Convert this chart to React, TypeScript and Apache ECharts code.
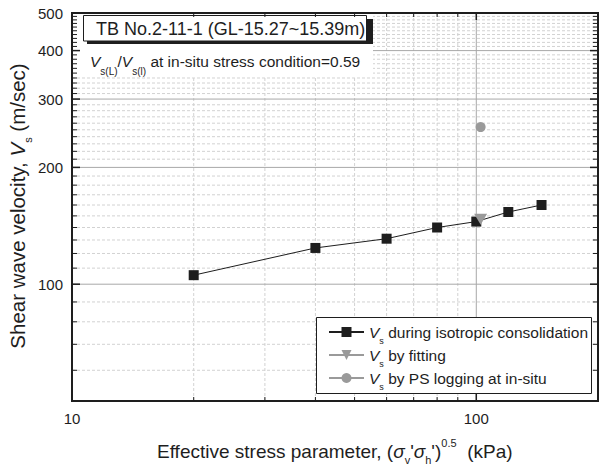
import React, { useEffect, useRef } from 'react';
import * as echarts from 'echarts';

const FONT = '"Liberation Sans", Arial, Helvetica, sans-serif';
const INK = '#1e1e1e';
const GRAY_MARK = '#9a9a9a';
const MAJOR_GRID = '#a8a8a8';
const MINOR_GRID = '#d2d2d2';

// ---- data ----
const stressParam = [20, 40, 60, 80, 100, 120, 145];
const vsIsotropic = [105.5, 124, 131, 140, 145, 153.5, 160];
const fittingStress = [102.5];
const vsFitting = [147];
const psStress = [102.5];
const vsPS = [254];

const seriesNames = [
  'Vs during isotropic consolidation',
  'Vs by fitting',
  'Vs by PS logging at in-situ',
];

// ---- axes ----
const xAxisRange = [10, 200];
const yAxisRange = [50, 500];
const xMajorTicks = [10, 100];
const xMinorTicks = [20, 30, 40, 50, 60, 70, 80, 90];
const yMajorTicks = [100, 200, 300, 400, 500];
const yMinorTicks = [
  60, 70, 80, 90,
  110, 120, 130, 140, 150, 160, 170, 180, 190,
  210, 220, 230, 240, 250, 260, 270, 280, 290,
  310, 320, 330, 340, 350, 360, 370, 380, 390,
  410, 420, 430, 440, 450, 460, 470, 480, 490,
];

const boxTitle = 'TB No.2-11-1 (GL-15.27~15.39m)';
const ratioText = '{it|V}{sub|s(L)}/{it|V}{sub|s(l)} at in-situ stress condition=0.59';

function hGridSeries(values: number[], dashed: boolean) {
  return {
    type: 'custom',
    silent: true,
    z: 1,
    data: values.map((v) => [xAxisRange[0], v]),
    renderItem: (params: any, api: any) => {
      const cs = params.coordSys;
      const v = api.value(1);
      if (v <= yAxisRange[0] || v >= yAxisRange[1]) return { type: 'group', children: [] };
      const y = api.coord([xAxisRange[0], v])[1];
      return {
        type: 'line',
        shape: { x1: cs.x, y1: y, x2: cs.x + cs.width, y2: y },
        style: { stroke: dashed ? MINOR_GRID : MAJOR_GRID, lineWidth: 1, lineDash: dashed ? [3, 2] : null },
      };
    },
  };
}

function vGridSeries(values: number[], dashed: boolean) {
  return {
    type: 'custom',
    silent: true,
    z: 1,
    data: values.map((v) => [v, yAxisRange[0]]),
    renderItem: (params: any, api: any) => {
      const cs = params.coordSys;
      const v = api.value(0);
      if (v <= xAxisRange[0] || v >= xAxisRange[1]) return { type: 'group', children: [] };
      const x = api.coord([v, yAxisRange[0]])[0];
      return {
        type: 'line',
        shape: { x1: x, y1: cs.y, x2: x, y2: cs.y + cs.height },
        style: { stroke: dashed ? MINOR_GRID : MAJOR_GRID, lineWidth: 1, lineDash: dashed ? [3, 2] : null },
      };
    },
  };
}

function yTickSeries(values: number[], major: boolean) {
  const len = major ? 8 : 5;
  return {
    type: 'custom',
    silent: true,
    z: 8,
    data: values.map((v) => [xAxisRange[0], v]),
    renderItem: (params: any, api: any) => {
      const cs = params.coordSys;
      const v = api.value(1);
      const y = api.coord([xAxisRange[0], v])[1];
      const st = { stroke: INK, lineWidth: major ? 1.5 : 1 };
      const children: any[] = [
        { type: 'line', shape: { x1: cs.x, y1: y, x2: cs.x + len, y2: y }, style: st },
        { type: 'line', shape: { x1: cs.x + cs.width - len, y1: y, x2: cs.x + cs.width, y2: y }, style: st },
      ];
      if (major) {
        children.push({
          type: 'text',
          x: cs.x - 9,
          y,
          style: {
            text: String(v),
            font: `15px ${FONT}`,
            fill: INK,
            align: 'right',
            verticalAlign: 'middle',
            textAlign: 'right',
            textVerticalAlign: 'middle',
          },
        });
      }
      return { type: 'group', children };
    },
  };
}

function xTickSeries(values: number[], major: boolean) {
  const len = major ? 7 : 4;
  return {
    type: 'custom',
    silent: true,
    z: 8,
    data: values.map((v) => [v, yAxisRange[0]]),
    renderItem: (params: any, api: any) => {
      const cs = params.coordSys;
      const v = api.value(0);
      const x = api.coord([v, yAxisRange[0]])[0];
      const st = { stroke: INK, lineWidth: major ? 1.5 : 1 };
      const b = cs.y + cs.height;
      const children: any[] = [
        { type: 'line', shape: { x1: x, y1: b, x2: x, y2: b - len }, style: st },
        { type: 'line', shape: { x1: x, y1: cs.y, x2: x, y2: cs.y + len }, style: st },
      ];
      if (major) {
        children.push({
          type: 'text',
          x,
          y: b + 17,
          style: {
            text: String(v),
            font: `15px ${FONT}`,
            fill: INK,
            align: 'center',
            verticalAlign: 'middle',
            textAlign: 'center',
            textVerticalAlign: 'middle',
          },
        });
      }
      return { type: 'group', children };
    },
  };
}

const option: any = {
  animation: false,
  backgroundColor: '#ffffff',
  grid: {
    left: 72,
    top: 13,
    right: 1,
    bottom: 64,
    show: true,
    z: 7,
    borderColor: INK,
    borderWidth: 2,
    backgroundColor: 'transparent',
    containLabel: false,
  },
  xAxis: {
    type: 'log',
    logBase: 10,
    min: xAxisRange[0],
    max: xAxisRange[1],
    axisLine: { show: false },
    axisTick: { show: false },
    axisLabel: { show: false },
    splitLine: { show: false },
  },
  yAxis: {
    type: 'log',
    logBase: 10,
    min: yAxisRange[0],
    max: yAxisRange[1],
    axisLine: { show: false },
    axisTick: { show: false },
    axisLabel: { show: false },
    splitLine: { show: false },
  },
  legend: {
    data: seriesNames,
    orient: 'vertical',
    left: 328,
    top: 319,
    padding: 0,
    itemGap: -3,
    itemWidth: 35,
    itemHeight: 12.5,
    selectedMode: false,
    z: 6,
    formatter: (name: string) => '{it|V}{sub|s}' + name.slice(2),
    textStyle: {
      color: INK,
      fontFamily: FONT,
      fontSize: 15.5,
      lineHeight: 26,
      rich: {
        it: { fontStyle: 'italic', fontFamily: FONT, fontSize: 15.5, lineHeight: 26, color: INK },
        sub: { fontFamily: FONT, fontSize: 9, lineHeight: 9, verticalAlign: 'bottom', color: INK },
      },
    },
  },
  series: [
    hGridSeries(yMinorTicks, true),
    vGridSeries(xMinorTicks, true),
    hGridSeries(yMajorTicks, false),
    vGridSeries(xMajorTicks, false),
    {
      name: seriesNames[0],
      type: 'line',
      z: 3,
      data: stressParam.map((x, i) => [x, vsIsotropic[i]]),
      symbol: 'rect',
      symbolSize: 10,
      itemStyle: { color: INK },
      lineStyle: { color: INK, width: 1 },
    },
    {
      name: seriesNames[1],
      type: 'line',
      z: 4,
      data: fittingStress.map((x, i) => [x, vsFitting[i]]),
      symbol: 'triangle',
      symbolRotate: 180,
      symbolSize: [13, 11],
      itemStyle: { color: GRAY_MARK },
      lineStyle: { color: GRAY_MARK, width: 1 },
    },
    {
      name: seriesNames[2],
      type: 'line',
      z: 4,
      data: psStress.map((x, i) => [x, vsPS[i]]),
      symbol: 'circle',
      symbolSize: 10,
      itemStyle: { color: GRAY_MARK },
      lineStyle: { color: GRAY_MARK, width: 1 },
    },
    yTickSeries(yMinorTicks, false),
    yTickSeries(yMajorTicks, true),
    xTickSeries(xMinorTicks, false),
    xTickSeries(xMajorTicks, true),
  ],
  graphic: [
    // white area behind the title/ratio annotations
    { type: 'rect', z: 5, silent: true, shape: { x: 73, y: 14, width: 300, height: 62 }, style: { fill: '#ffffff' } },
    // shadow of title box
    { type: 'rect', z: 5, silent: true, shape: { x: 87, y: 19, width: 286, height: 25 }, style: { fill: INK } },
    // title box
    { type: 'rect', z: 6, silent: true, shape: { x: 83.5, y: 15.5, width: 283, height: 25.5 }, style: { fill: '#ffffff', stroke: INK, lineWidth: 1 } },
    {
      type: 'text', z: 7, silent: true, x: 96, y: 28.5,
      style: { text: boxTitle, font: `18px ${FONT}`, fill: INK, align: 'left', verticalAlign: 'middle', textAlign: 'left', textVerticalAlign: 'middle' },
    },
    {
      type: 'text', z: 7, silent: true, x: 90, y: 61,
      style: {
        text: ratioText,
        fontFamily: FONT,
        fontSize: 15.5,
        lineHeight: 30,
        fill: INK,
        align: 'left', verticalAlign: 'middle', textAlign: 'left', textVerticalAlign: 'middle',
        rich: {
          it: { fontStyle: 'italic', fontFamily: FONT, fontSize: 15.5, lineHeight: 30, fill: INK },
          sub: { fontFamily: FONT, fontSize: 10, lineHeight: 10, verticalAlign: 'bottom', fill: INK },
        },
      },
    },
    // legend frame
    { type: 'rect', z: 5, silent: true, shape: { x: 316.5, y: 317.5, width: 275, height: 76 }, style: { fill: '#ffffff', stroke: INK, lineWidth: 1 } },
    // y-axis title
    {
      type: 'text', z: 7, silent: true, x: 17, y: 206, rotation: Math.PI / 2,
      style: {
        text: '{n|Shear wave velocity, }{it|V}{sub|s}{n| (m/sec)}',
        fontFamily: FONT, fontSize: 20.5, lineHeight: 32, fill: INK,
        align: 'center', verticalAlign: 'middle', textAlign: 'center', textVerticalAlign: 'middle',
        rich: {
          n: { fontFamily: FONT, fontSize: 20.5, lineHeight: 32, fill: INK },
          it: { fontStyle: 'italic', fontFamily: FONT, fontSize: 20.5, lineHeight: 32, fill: INK },
          sub: { fontFamily: FONT, fontSize: 11, lineHeight: 11, verticalAlign: 'bottom', fill: INK },
        },
      },
    },
    // x-axis title
    {
      type: 'text', z: 7, silent: true, x: 157, y: 451,
      style: {
        text: "{n|Effective stress parameter, (}{it|σ}{sub|v}{n|'}{it|σ}{sub|h}{n|')}{sup|0.5}{n|  (kPa)}",
        fontFamily: FONT, fontSize: 19, lineHeight: 28, fill: INK,
        align: 'left', verticalAlign: 'middle', textAlign: 'left', textVerticalAlign: 'middle',
        rich: {
          n: { fontFamily: FONT, fontSize: 19, lineHeight: 28, fill: INK },
          it: { fontStyle: 'italic', fontFamily: FONT, fontSize: 19, lineHeight: 28, fill: INK },
          sub: { fontFamily: FONT, fontSize: 11, lineHeight: 11, verticalAlign: 'bottom', fill: INK },
          sup: { fontFamily: FONT, fontSize: 11, lineHeight: 11, verticalAlign: 'top', fill: INK },
        },
      },
    },
  ],
};

export default function App() {
  const ref = useRef<HTMLDivElement>(null);
  useEffect(() => {
    const chart = echarts.init(ref.current as HTMLDivElement, undefined, { renderer: 'svg' });
    chart.setOption(option);
    return () => {
      chart.dispose();
    };
  }, []);
  return (
    <div
      ref={ref}
      style={{ position: 'absolute', left: 0, top: 0, width: 599, height: 465, background: '#ffffff' }}
    />
  );
}
